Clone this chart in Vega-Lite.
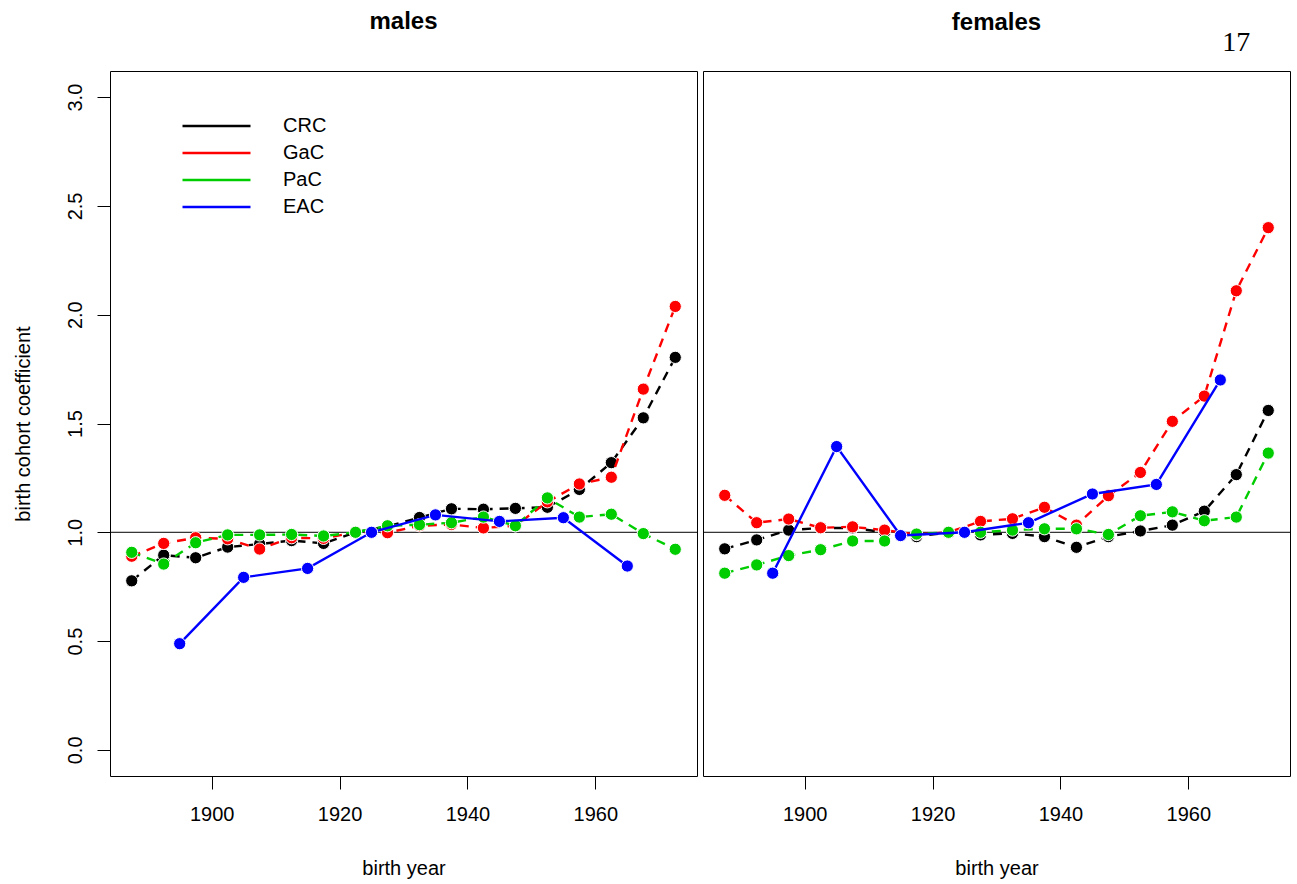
{
  "$schema": "https://vega.github.io/schema/vega-lite/v6.json",
  "autosize": {"type": "pad"},
  "padding": {"left": 12, "top": 9, "right": 5, "bottom": 5},
  "background": "white",
  "spacing": 4,
  "datasets": {
    "bc": [
      {"sex":"males","series":"CRC","year":1887.5,"value":0.777},
      {"sex":"males","series":"CRC","year":1892.5,"value":0.895},
      {"sex":"males","series":"CRC","year":1897.5,"value":0.883},
      {"sex":"males","series":"CRC","year":1902.5,"value":0.932},
      {"sex":"males","series":"CRC","year":1907.5,"value":0.946},
      {"sex":"males","series":"CRC","year":1912.5,"value":0.962},
      {"sex":"males","series":"CRC","year":1917.5,"value":0.949},
      {"sex":"males","series":"CRC","year":1922.5,"value":1.0},
      {"sex":"males","series":"CRC","year":1927.5,"value":1.027},
      {"sex":"males","series":"CRC","year":1932.5,"value":1.068},
      {"sex":"males","series":"CRC","year":1937.5,"value":1.108},
      {"sex":"males","series":"CRC","year":1942.5,"value":1.106},
      {"sex":"males","series":"CRC","year":1947.5,"value":1.11},
      {"sex":"males","series":"CRC","year":1952.5,"value":1.115},
      {"sex":"males","series":"CRC","year":1957.5,"value":1.197},
      {"sex":"males","series":"CRC","year":1962.5,"value":1.32},
      {"sex":"males","series":"CRC","year":1967.5,"value":1.526},
      {"sex":"males","series":"CRC","year":1972.5,"value":1.804},
      {"sex":"males","series":"GaC","year":1887.5,"value":0.89},
      {"sex":"males","series":"GaC","year":1892.5,"value":0.949},
      {"sex":"males","series":"GaC","year":1897.5,"value":0.975},
      {"sex":"males","series":"GaC","year":1902.5,"value":0.97},
      {"sex":"males","series":"GaC","year":1907.5,"value":0.923},
      {"sex":"males","series":"GaC","year":1912.5,"value":0.975},
      {"sex":"males","series":"GaC","year":1917.5,"value":0.972},
      {"sex":"males","series":"GaC","year":1922.5,"value":1.0},
      {"sex":"males","series":"GaC","year":1927.5,"value":0.998},
      {"sex":"males","series":"GaC","year":1932.5,"value":1.03},
      {"sex":"males","series":"GaC","year":1937.5,"value":1.036},
      {"sex":"males","series":"GaC","year":1942.5,"value":1.02},
      {"sex":"males","series":"GaC","year":1947.5,"value":1.03},
      {"sex":"males","series":"GaC","year":1952.5,"value":1.14},
      {"sex":"males","series":"GaC","year":1957.5,"value":1.222},
      {"sex":"males","series":"GaC","year":1962.5,"value":1.253},
      {"sex":"males","series":"GaC","year":1967.5,"value":1.658},
      {"sex":"males","series":"GaC","year":1972.5,"value":2.038},
      {"sex":"males","series":"PaC","year":1887.5,"value":0.908},
      {"sex":"males","series":"PaC","year":1892.5,"value":0.854},
      {"sex":"males","series":"PaC","year":1897.5,"value":0.952},
      {"sex":"males","series":"PaC","year":1902.5,"value":0.988},
      {"sex":"males","series":"PaC","year":1907.5,"value":0.988},
      {"sex":"males","series":"PaC","year":1912.5,"value":0.99},
      {"sex":"males","series":"PaC","year":1917.5,"value":0.983},
      {"sex":"males","series":"PaC","year":1922.5,"value":1.0},
      {"sex":"males","series":"PaC","year":1927.5,"value":1.03},
      {"sex":"males","series":"PaC","year":1932.5,"value":1.035},
      {"sex":"males","series":"PaC","year":1937.5,"value":1.044},
      {"sex":"males","series":"PaC","year":1942.5,"value":1.07},
      {"sex":"males","series":"PaC","year":1947.5,"value":1.03},
      {"sex":"males","series":"PaC","year":1952.5,"value":1.158},
      {"sex":"males","series":"PaC","year":1957.5,"value":1.07},
      {"sex":"males","series":"PaC","year":1962.5,"value":1.083},
      {"sex":"males","series":"PaC","year":1967.5,"value":0.994},
      {"sex":"males","series":"PaC","year":1972.5,"value":0.922},
      {"sex":"males","series":"EAC","year":1895,"value":0.488},
      {"sex":"males","series":"EAC","year":1905,"value":0.793},
      {"sex":"males","series":"EAC","year":1915,"value":0.834},
      {"sex":"males","series":"EAC","year":1925,"value":1.0},
      {"sex":"males","series":"EAC","year":1935,"value":1.08},
      {"sex":"males","series":"EAC","year":1945,"value":1.05},
      {"sex":"males","series":"EAC","year":1955,"value":1.067},
      {"sex":"males","series":"EAC","year":1965,"value":0.845},
      {"sex":"females","series":"CRC","year":1887.5,"value":0.924},
      {"sex":"females","series":"CRC","year":1892.5,"value":0.965},
      {"sex":"females","series":"CRC","year":1897.5,"value":1.01},
      {"sex":"females","series":"CRC","year":1902.5,"value":1.02},
      {"sex":"females","series":"CRC","year":1907.5,"value":1.02},
      {"sex":"females","series":"CRC","year":1912.5,"value":1.0},
      {"sex":"females","series":"CRC","year":1917.5,"value":0.98},
      {"sex":"females","series":"CRC","year":1922.5,"value":1.0},
      {"sex":"females","series":"CRC","year":1927.5,"value":0.988},
      {"sex":"females","series":"CRC","year":1932.5,"value":0.995},
      {"sex":"females","series":"CRC","year":1937.5,"value":0.98},
      {"sex":"females","series":"CRC","year":1942.5,"value":0.931},
      {"sex":"females","series":"CRC","year":1947.5,"value":0.98},
      {"sex":"females","series":"CRC","year":1952.5,"value":1.006},
      {"sex":"females","series":"CRC","year":1957.5,"value":1.033},
      {"sex":"females","series":"CRC","year":1962.5,"value":1.097},
      {"sex":"females","series":"CRC","year":1967.5,"value":1.265},
      {"sex":"females","series":"CRC","year":1972.5,"value":1.56},
      {"sex":"females","series":"GaC","year":1887.5,"value":1.17},
      {"sex":"females","series":"GaC","year":1892.5,"value":1.044},
      {"sex":"females","series":"GaC","year":1897.5,"value":1.061},
      {"sex":"females","series":"GaC","year":1902.5,"value":1.021},
      {"sex":"females","series":"GaC","year":1907.5,"value":1.025},
      {"sex":"females","series":"GaC","year":1912.5,"value":1.01},
      {"sex":"females","series":"GaC","year":1917.5,"value":0.99},
      {"sex":"females","series":"GaC","year":1922.5,"value":1.0},
      {"sex":"females","series":"GaC","year":1927.5,"value":1.05},
      {"sex":"females","series":"GaC","year":1932.5,"value":1.062},
      {"sex":"females","series":"GaC","year":1937.5,"value":1.115},
      {"sex":"females","series":"GaC","year":1942.5,"value":1.033},
      {"sex":"females","series":"GaC","year":1947.5,"value":1.168},
      {"sex":"females","series":"GaC","year":1952.5,"value":1.275},
      {"sex":"females","series":"GaC","year":1957.5,"value":1.51},
      {"sex":"females","series":"GaC","year":1962.5,"value":1.626},
      {"sex":"females","series":"GaC","year":1967.5,"value":2.11},
      {"sex":"females","series":"GaC","year":1972.5,"value":2.4},
      {"sex":"females","series":"PaC","year":1887.5,"value":0.812},
      {"sex":"females","series":"PaC","year":1892.5,"value":0.85},
      {"sex":"females","series":"PaC","year":1897.5,"value":0.893},
      {"sex":"females","series":"PaC","year":1902.5,"value":0.92},
      {"sex":"females","series":"PaC","year":1907.5,"value":0.96},
      {"sex":"females","series":"PaC","year":1912.5,"value":0.96},
      {"sex":"females","series":"PaC","year":1917.5,"value":0.992},
      {"sex":"females","series":"PaC","year":1922.5,"value":1.0},
      {"sex":"females","series":"PaC","year":1927.5,"value":1.0},
      {"sex":"females","series":"PaC","year":1932.5,"value":1.01},
      {"sex":"females","series":"PaC","year":1937.5,"value":1.016},
      {"sex":"females","series":"PaC","year":1942.5,"value":1.016},
      {"sex":"females","series":"PaC","year":1947.5,"value":0.99},
      {"sex":"females","series":"PaC","year":1952.5,"value":1.076},
      {"sex":"females","series":"PaC","year":1957.5,"value":1.094},
      {"sex":"females","series":"PaC","year":1962.5,"value":1.053},
      {"sex":"females","series":"PaC","year":1967.5,"value":1.07},
      {"sex":"females","series":"PaC","year":1972.5,"value":1.364},
      {"sex":"females","series":"EAC","year":1895,"value":0.812},
      {"sex":"females","series":"EAC","year":1905,"value":1.394},
      {"sex":"females","series":"EAC","year":1915,"value":0.985},
      {"sex":"females","series":"EAC","year":1925,"value":1.0},
      {"sex":"females","series":"EAC","year":1935,"value":1.044},
      {"sex":"females","series":"EAC","year":1945,"value":1.176},
      {"sex":"females","series":"EAC","year":1955,"value":1.22},
      {"sex":"females","series":"EAC","year":1965,"value":1.7}
    ]
  },
  "data": {"name": "bc"},
  "resolve": {"scale": {"color": "independent"}, "legend": {"color": "independent"}},
  "config": {
    "font": "Liberation Sans",
    "view": {"stroke": "black", "strokeWidth": 1},
    "axis": {
      "grid": false, "domain": false, "tickColor": "black", "tickSize": 13, "tickWidth": 1,
      "labelFontSize": 20, "labelColor": "black", "labelFont": "Liberation Sans", "labelFlush": false,
      "titleFontSize": 20, "titleFontWeight": "normal", "titleColor": "black", "titleFont": "Liberation Sans"
    },
    "title": {"fontSize": 24, "fontWeight": "bold", "color": "black", "font": "Liberation Sans", "anchor": "middle", "baseline": "alphabetic"}
  },
  "hconcat": [
    {
      "width": 587, "height": 705,
      "title": {"text": "males", "offset": 37},
      "layer": [
        {"data": {"values": [{}]}, "mark": {"type": "rule", "color": "black", "strokeWidth": 1},
         "encoding": {"y": {"datum": 1, "type": "quantitative", "scale": {"domain": [-0.12, 3.12], "nice": false, "zero": false},
                  "axis": {"values": [0, 0.5, 1, 1.5, 2, 2.5, 3], "format": ".1f", "title": "birth cohort coefficient", "labelAngle": -90, "labelPadding": 12, "titlePadding": 32}}}},
        {
          "transform": [{"filter": "datum.sex == 'males'"}],
          "encoding": {
            "x": {"field": "year", "type": "quantitative", "scale": {"domain": [1884.1, 1975.9], "nice": false, "zero": false},
                  "axis": {"values": [1900, 1920, 1940, 1960], "format": "d", "title": "birth year", "labelPadding": 15, "titlePadding": 34}},
            "y": {"field": "value", "type": "quantitative", "scale": {"domain": [-0.12, 3.12], "nice": false, "zero": false},
                  "axis": {"values": [0, 0.5, 1, 1.5, 2, 2.5, 3], "format": ".1f", "title": "birth cohort coefficient", "labelAngle": -90, "labelPadding": 12, "titlePadding": 32}},
            "color": {"field": "series", "type": "nominal", "scale": {"domain": ["CRC", "GaC", "PaC", "EAC"], "range": ["#000000", "#FF0000", "#00CD00", "#0000FF"]},
              "legend": {"orient": "none", "legendX": 71, "legendY": 45, "title": null, "symbolType": "stroke", "symbolSize": 4624, "symbolStrokeWidth": 2.5,
                "labelFontSize": 20, "labelColor": "black", "labelFont": "Liberation Sans", "labelOffset": 31, "clipHeight": 20, "rowPadding": 7, "padding": 0,
                "encode": {"symbols": {"update": {"strokeDash": {"value": [1, 0]}, "strokeWidth": {"value": 2.5}}}}}}
          },
          "layer": [
            {"transform": [{"filter": "datum.series == 'CRC'"}], "mark": {"type": "line", "strokeWidth": 2.4, "strokeDash": [9, 7]}},
            {"transform": [{"filter": "datum.series == 'CRC'"}], "mark": {"type": "point", "filled": true, "size": 150, "stroke": "white", "strokeWidth": 1, "opacity": 1}},
            {"transform": [{"filter": "datum.series == 'GaC'"}], "mark": {"type": "line", "strokeWidth": 2.4, "strokeDash": [9, 7]}},
            {"transform": [{"filter": "datum.series == 'GaC'"}], "mark": {"type": "point", "filled": true, "size": 150, "stroke": "white", "strokeWidth": 1, "opacity": 1}},
            {"transform": [{"filter": "datum.series == 'PaC'"}], "mark": {"type": "line", "strokeWidth": 2.4, "strokeDash": [9, 7]}},
            {"transform": [{"filter": "datum.series == 'PaC'"}], "mark": {"type": "point", "filled": true, "size": 150, "stroke": "white", "strokeWidth": 1, "opacity": 1}},
            {"transform": [{"filter": "datum.series == 'EAC'"}], "mark": {"type": "line", "strokeWidth": 2.4}},
            {"transform": [{"filter": "datum.series == 'EAC'"}], "mark": {"type": "point", "filled": true, "size": 150, "stroke": "white", "strokeWidth": 1, "opacity": 1}}
          ]
        }
      ]
    },
    {
      "width": 587, "height": 705,
      "title": {"text": "females", "offset": -6},
      "layer": [
        {"data": {"values": [{}]}, "mark": {"type": "rule", "color": "black", "strokeWidth": 1},
         "encoding": {"y": {"datum": 1, "type": "quantitative", "scale": {"domain": [-0.12, 3.12], "nice": false, "zero": false}, "axis": null}}},
        {
          "transform": [{"filter": "datum.sex == 'females'"}],
          "encoding": {
            "x": {"field": "year", "type": "quantitative", "scale": {"domain": [1884.1, 1975.9], "nice": false, "zero": false},
                  "axis": {"values": [1900, 1920, 1940, 1960], "format": "d", "title": "birth year", "labelPadding": 15, "titlePadding": 34}},
            "y": {"field": "value", "type": "quantitative", "scale": {"domain": [-0.12, 3.12], "nice": false, "zero": false}, "axis": null},
            "color": {"field": "series", "type": "nominal", "scale": {"domain": ["CRC", "GaC", "PaC", "EAC"], "range": ["#000000", "#FF0000", "#00CD00", "#0000FF"]}, "legend": null}
          },
          "layer": [
            {"transform": [{"filter": "datum.series == 'CRC'"}], "mark": {"type": "line", "strokeWidth": 2.4, "strokeDash": [9, 7]}},
            {"transform": [{"filter": "datum.series == 'CRC'"}], "mark": {"type": "point", "filled": true, "size": 150, "stroke": "white", "strokeWidth": 1, "opacity": 1}},
            {"transform": [{"filter": "datum.series == 'GaC'"}], "mark": {"type": "line", "strokeWidth": 2.4, "strokeDash": [9, 7]}},
            {"transform": [{"filter": "datum.series == 'GaC'"}], "mark": {"type": "point", "filled": true, "size": 150, "stroke": "white", "strokeWidth": 1, "opacity": 1}},
            {"transform": [{"filter": "datum.series == 'PaC'"}], "mark": {"type": "line", "strokeWidth": 2.4, "strokeDash": [9, 7]}},
            {"transform": [{"filter": "datum.series == 'PaC'"}], "mark": {"type": "point", "filled": true, "size": 150, "stroke": "white", "strokeWidth": 1, "opacity": 1}},
            {"transform": [{"filter": "datum.series == 'EAC'"}], "mark": {"type": "line", "strokeWidth": 2.4}},
            {"transform": [{"filter": "datum.series == 'EAC'"}], "mark": {"type": "point", "filled": true, "size": 150, "stroke": "white", "strokeWidth": 1, "opacity": 1}}
          ]
        },
        {"data": {"values": [{"label": "17"}]}, "mark": {"type": "text", "font": "Liberation Serif", "fontSize": 28, "baseline": "alphabetic", "align": "center", "color": "black"},
         "encoding": {"x": {"datum": 1967.5, "type": "quantitative"}, "y": {"datum": 3.212, "type": "quantitative"}, "text": {"field": "label"}}}
      ]
    }
  ]
}
